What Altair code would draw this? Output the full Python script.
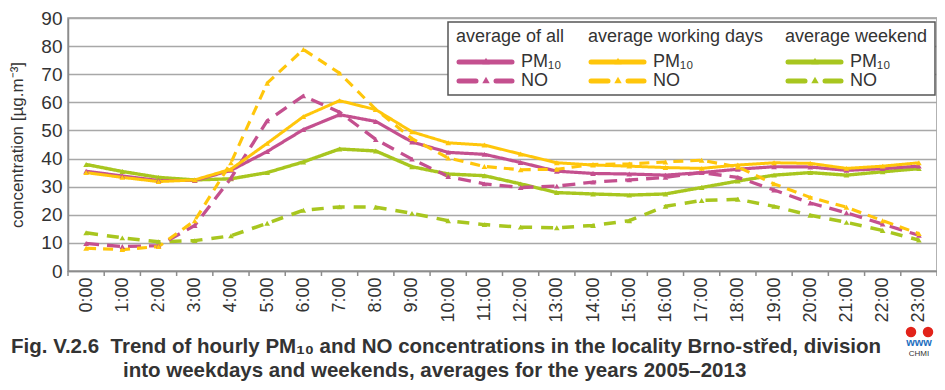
import altair as alt
import pandas as pd

# ---------------- data ----------------
hour_labels = [f"{h}:00" for h in range(24)]
hours = list(range(24))

all_pm10 = [35.5, 33.8, 32.2, 32.2, 35.8, 42.5, 50.3, 55.6, 53.2, 45.9, 42.2, 41.5,
            38.6, 35.5, 34.7, 34.5, 34.1, 35.0, 36.2, 37.1, 37.0, 35.8, 36.4, 37.3]
all_no = [9.8, 8.7, 9.0, 16.2, 33.0, 53.4, 62.3, 56.5, 46.8, 39.8, 33.6, 31.0,
          29.7, 30.2, 31.6, 32.4, 33.3, 35.0, 33.3, 28.8, 24.2, 20.7, 16.7, 12.7]
work_pm10 = [35.0, 33.3, 31.8, 32.4, 36.2, 45.4, 54.9, 60.6, 57.4, 49.5, 45.6, 44.8,
             41.6, 38.5, 37.7, 37.3, 36.8, 36.5, 37.7, 38.5, 38.3, 36.5, 37.3, 38.5]
work_no = [8.1, 7.6, 8.7, 17.9, 38.5, 66.8, 78.8, 70.4, 57.5, 47.1, 40.2, 37.2,
           36.0, 36.2, 37.9, 38.1, 38.8, 39.4, 37.0, 31.0, 26.2, 22.7, 17.9, 13.3]
wend_pm10 = [37.9, 35.4, 33.3, 32.4, 32.8, 35.0, 38.8, 43.4, 42.7, 37.1, 34.5, 33.9,
             31.0, 27.9, 27.4, 27.0, 27.4, 29.7, 32.0, 34.1, 35.0, 34.1, 35.3, 36.4]
wend_no = [13.6, 11.8, 10.4, 10.8, 12.5, 17.0, 21.6, 22.8, 22.7, 20.5, 17.9, 16.5,
           15.6, 15.4, 16.2, 17.9, 23.0, 25.1, 25.5, 23.0, 19.8, 17.3, 14.4, 11.0]
y_ticks = [0, 10, 20, 30, 40, 50, 60, 70, 80, 90]

series_names = ["wend_no", "wend_pm10", "all_no", "all_pm10", "work_no", "work_pm10"]
series_values = [wend_no, wend_pm10, all_no, all_pm10, work_no, work_pm10]

MAG = "#C4508F"
YEL = "#FFC60B"
GRN = "#A8C61F"
series_colors = [GRN, GRN, MAG, MAG, YEL, YEL]
series_dash = [[12, 9], [1, 0], [13, 8], [1, 0], [10, 7], [1, 0]]
series_width = [3.5, 3, 5, 4, 5, 4.5]

rows = []
for name, vals in zip(series_names, series_values):
    for h, v in zip(hours, vals):
        rows.append({"hour": h, "value": v, "series": name})
df = pd.DataFrame(rows)

FONT = "Liberation Sans"
TXT = "#333333"
W, H = 869, 253

label_expr = "[" + ",".join(f"'{s}'" for s in hour_labels) + "][datum.value]"

x_axis = alt.Axis(values=hours, labelExpr=label_expr, title=None,
                  labelAngle=-90, labelAlign="right", labelBaseline="middle",
                  labelFontSize=18, labelFont=FONT, labelColor=TXT,
                  labelOverlap=False, labelBound=False, labelFlush=False,
                  labelPadding=6, ticks=False, grid=False,
                  domainColor="#8C8C8C", domainWidth=1.5)
y_axis = alt.Axis(values=y_ticks, title="concentration [µg.m⁻³]",
                  titleFont=FONT, titleFontSize=17, titleFontWeight="normal",
                  titleColor=TXT, titlePadding=14,
                  labelFontSize=19, labelFont=FONT, labelColor=TXT,
                  labelOverlap=False, labelBound=False, labelFlush=False,
                  labelPadding=6, ticks=False, grid=True,
                  gridColor="#A8A8A8", gridWidth=1.5,
                  domainColor="#8C8C8C", domainWidth=1.5)
x_scale = alt.Scale(domain=[-0.5, 23.5], nice=False, zero=False)
y_scale = alt.Scale(domain=[0, 90], nice=False)

x_enc = alt.X("hour:Q", scale=x_scale, axis=x_axis)
y_enc = alt.Y("value:Q", scale=y_scale, axis=y_axis)

color_enc = alt.Color("series:N", scale=alt.Scale(domain=series_names, range=series_colors), legend=None)

lines = alt.Chart(df).mark_line(strokeJoin="round").encode(
    x=x_enc, y=y_enc, color=color_enc,
    strokeDash=alt.StrokeDash("series:N", scale=alt.Scale(domain=series_names, range=series_dash), legend=None),
    strokeWidth=alt.StrokeWidth("series:N", scale=alt.Scale(domain=series_names, range=series_width), legend=None),
    detail="series:N",
)
points = alt.Chart(df).mark_point(shape="triangle-up", filled=True, size=32, opacity=1).encode(
    x=x_enc, y=y_enc, color=color_enc
)

bounds = pd.DataFrame({"hour": [h - 0.5 for h in range(25)]})
xticks = alt.Chart(bounds).mark_rule(color="#8C8C8C", strokeWidth=1.5).encode(
    x=x_enc, y=alt.value(H), y2=alt.value(H + 5)
)

one = pd.DataFrame({"k": [0]})


def text(t, x, y, size, weight="normal", align="left", color=TXT, font=FONT):
    return alt.Chart(one).mark_text(text=t, align=align, baseline="middle", fontSize=size,
                                    fontWeight=weight, color=color, font=font).encode(
        x=alt.value(x), y=alt.value(y))


def seg(x1, x2, y, color, width):
    return alt.Chart(one).mark_rule(color=color, strokeWidth=width, strokeCap="round").encode(
        x=alt.value(x1), x2=alt.value(x2), y=alt.value(y))


def tri(x, y, color, size=55):
    return alt.Chart(one).mark_point(shape="triangle-up", filled=True, size=size, opacity=1,
                                     color=color).encode(x=alt.value(x), y=alt.value(y))


def dot(x, y, color, size):
    return alt.Chart(one).mark_point(shape="circle", filled=True, size=size, opacity=1,
                                     color=color).encode(x=alt.value(x), y=alt.value(y))


deco = []
# legend box
deco.append(alt.Chart(one).mark_rect(fill="white", stroke="#555555", strokeWidth=1.5).encode(
    x=alt.value(380), x2=alt.value(867), y=alt.value(4), y2=alt.value(77)))
legend_headers = ["average of all", "average working days", "average weekend"]
legend_colors = [MAG, YEL, GRN]
col_x = [388, 520, 717]
row_y = [44, 63]
for hdr, colr, cx in zip(legend_headers, legend_colors, col_x):
    deco.append(text(hdr, cx, 19, 18))
    lx = cx + 3
    # solid sample
    deco.append(seg(lx, lx + 53, row_y[0], colr, 5))
    deco.append(tri(lx + 27, row_y[0] - 1, colr))
    deco.append(text("PM₁₀", lx + 62, row_y[0], 18))
    # dashed sample
    deco.append(seg(lx, lx + 17, row_y[1], colr, 5))
    deco.append(seg(lx + 37, lx + 53, row_y[1], colr, 5))
    deco.append(tri(lx + 27, row_y[1] - 1, colr))
    deco.append(text("NO", lx + 62, row_y[1], 18))

# caption
CAP_FONT = "Liberation Sans"
deco.append(text("Fig. V.2.6\u00a0 Trend of hourly PM₁₀ and NO concentrations in the locality Brno-střed, division",
                 -57, 329, 20.5, weight="bold", font=CAP_FONT))
deco.append(text("into weekdays and weekends, averages for the years 2005–2013",
                 55, 353, 20.5, weight="bold", font=CAP_FONT))

# CHMI logo
deco.append(dot(843, 314, "#E2231A", 110))
deco.append(dot(860, 314, "#E2231A", 110))
deco.append(text("www", 851, 325, 11, weight="bold", align="center", color="#1F6FC0"))
deco.append(text("CHMI", 851, 336, 8, align="center", color="#333333"))

chart = alt.layer(lines, points, xticks, *deco).properties(
    width=W, height=H,
    autosize=alt.AutoSizeParams(type="none"),
    padding={"left": 60, "top": 10, "right": 0, "bottom": 111},
).configure_view(stroke="#999999", strokeWidth=1.5)

chart.save("out.html", embed_options={"renderer": "svg", "actions": False})
